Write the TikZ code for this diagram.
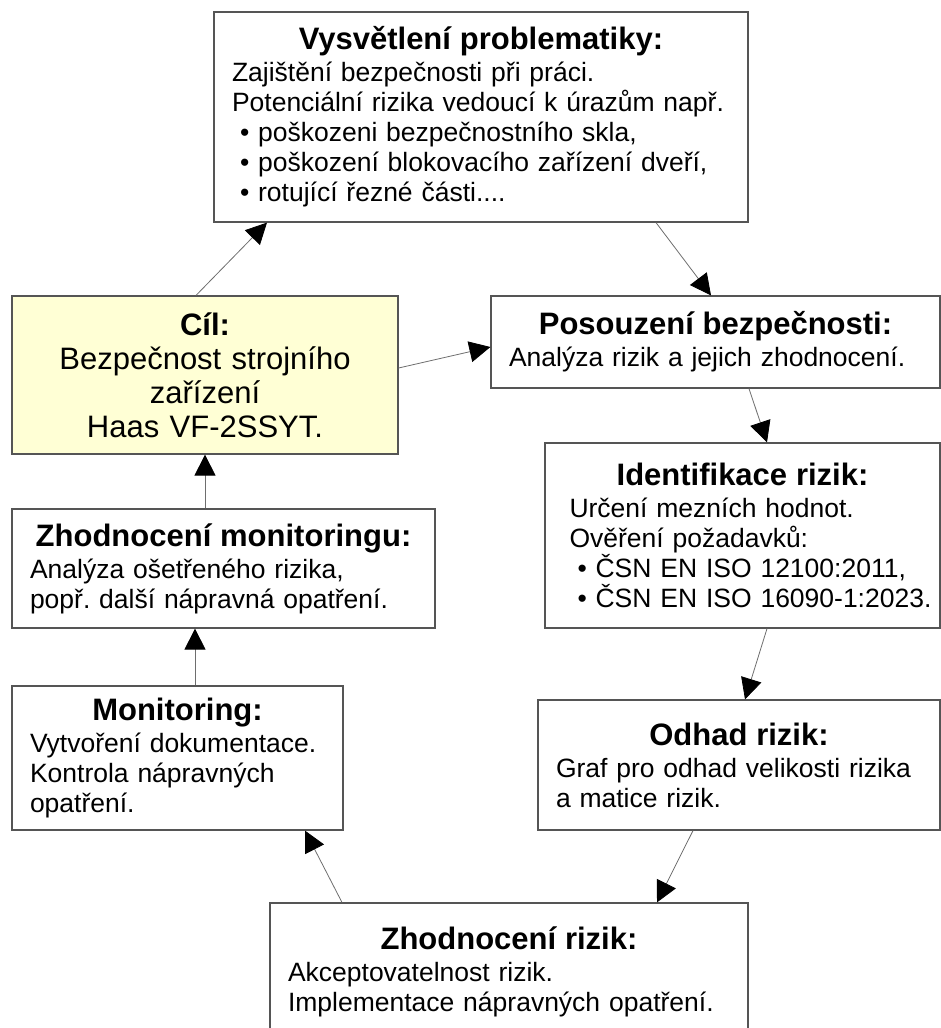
\documentclass[tikz,border=0pt]{standalone}
\usepackage{fontspec}
\setmainfont{Liberation Sans}
\usepackage{tikz}
\usetikzlibrary{arrows.meta,positioning}
\definecolor{boxline}{RGB}{85,85,85}
\definecolor{arrline}{RGB}{110,110,110}
\definecolor{lightyellow}{RGB}{255,255,213}
\setlength{\parindent}{0pt}
\frenchspacing
\newcommand{\boxtitle}[1]{{\centering\bfseries\fontsize{31}{32}\selectfont #1\par}\vspace{2pt}}
\newcommand{\bul}{\hspace*{8pt}\textbullet\ }
\tikzset{
  stepbox/.style={draw=boxline, line width=1.2pt, fill=white, rectangle,
    inner xsep=18pt, inner ysep=0pt, align=left,
    font=\fontsize{26.5}{30}\selectfont},
  flow/.style={draw=arrline, line width=0.8pt, -{Triangle[length=21pt,width=21pt,color=black]}}
}

\begin{document}
\begin{tikzpicture}[x=1pt, y=-1pt]
    \useasboundingbox (0,0) rectangle (941,1028);
    \begin{scope}
    \clip (0,0) rectangle (941,1028);
    % boxes
    \node[stepbox, minimum width=534pt, minimum height=210pt, text width=498pt] (vys) at (481,117)
        {\boxtitle{Vysvětlení problematiky:}%
         Zajištění bezpečnosti při práci.\\
         Potenciální rizika vedoucí k úrazům např.\\
         \bul poškozeni bezpečnostního skla,\\
         \bul poškození blokovacího zařízení dveří,\\
         \bul rotující řezné části....};
    \node[stepbox, fill=lightyellow, minimum width=386pt, minimum height=158pt, text width=350pt,
        align=center, font=\fontsize{31}{34}\selectfont] (cil) at (205,375)
        {\textbf{Cíl:}\\ Bezpečnost strojního\\ zařízení\\ Haas VF-2SSYT.};
    \node[stepbox, minimum width=449pt, minimum height=92pt, text width=413pt] (pos) at (715.5,342)
        {\boxtitle{Posouzení bezpečnosti:}%
         Analýza rizik a jejich zhodnocení.};
    \node[stepbox, minimum width=395pt, minimum height=185pt, text width=390pt, inner xsep=2.5pt] (ide) at (742.5,535.5)
        {\boxtitle{Identifikace rizik:}%
         \hspace*{22pt}Určení mezních hodnot.\\
         \hspace*{22pt}Ověření požadavků:\\
         \hspace*{22pt}\bul ČSN EN ISO 12100:2011,\\
         \hspace*{22pt}\bul \mbox{ČSN EN ISO 16090-1:2023.}};
    \node[stepbox, minimum width=402pt, minimum height=130pt, text width=366pt] (odh) at (739,765)
        {\boxtitle{Odhad rizik:}%
         Graf pro odhad velikosti rizika\\
         a matice rizik.};
    \node[stepbox, minimum width=478pt, minimum height=137pt, text width=442pt] (zri) at (509,971.5)
        {\boxtitle{Zhodnocení rizik:}%
         Akceptovatelnost rizik.\\
         Implementace nápravných opatření.};
    \node[stepbox, minimum width=423pt, minimum height=119pt, text width=387pt] (zmo) at (223.5,568.5)
        {\boxtitle{Zhodnocení monitoringu:}%
         Analýza ošetřeného rizika,\\
         popř. další nápravná opatření.};
    \node[stepbox, minimum width=331pt, minimum height=144pt, text width=295pt] (mon) at (177.5,758)
        {\boxtitle{Monitoring:}%
         Vytvoření dokumentace.\\
         Kontrola nápravných\\
         opatření.};
    \end{scope}
    % connectors
    \draw[flow] ([xshift=-9pt]cil.north) -- ([xshift=-214pt]vys.south);
    \draw[flow] ([xshift=175pt]vys.south) -- ([xshift=-4.5pt]pos.north);
    \draw[flow] ([yshift=7pt]cil.east) -- ([yshift=-5pt]pos.west);
    \draw[flow] ([xshift=33.5pt]pos.south) -- ([xshift=24.5pt]ide.north);
    \draw[flow] ([xshift=24.5pt]ide.south) -- ([xshift=6pt]odh.north);
    \draw[flow] ([xshift=-46pt]odh.south) -- ([xshift=148pt]zri.north);
    \draw[flow] ([xshift=-167pt]zri.north) -- ([xshift=127.5pt]mon.south);
    \draw[flow] ([xshift=17.5pt]mon.north) -- ([xshift=-28.5pt]zmo.south);
    \draw[flow] ([xshift=-18.5pt]zmo.north) -- (cil.south);
\end{tikzpicture}
\end{document}
